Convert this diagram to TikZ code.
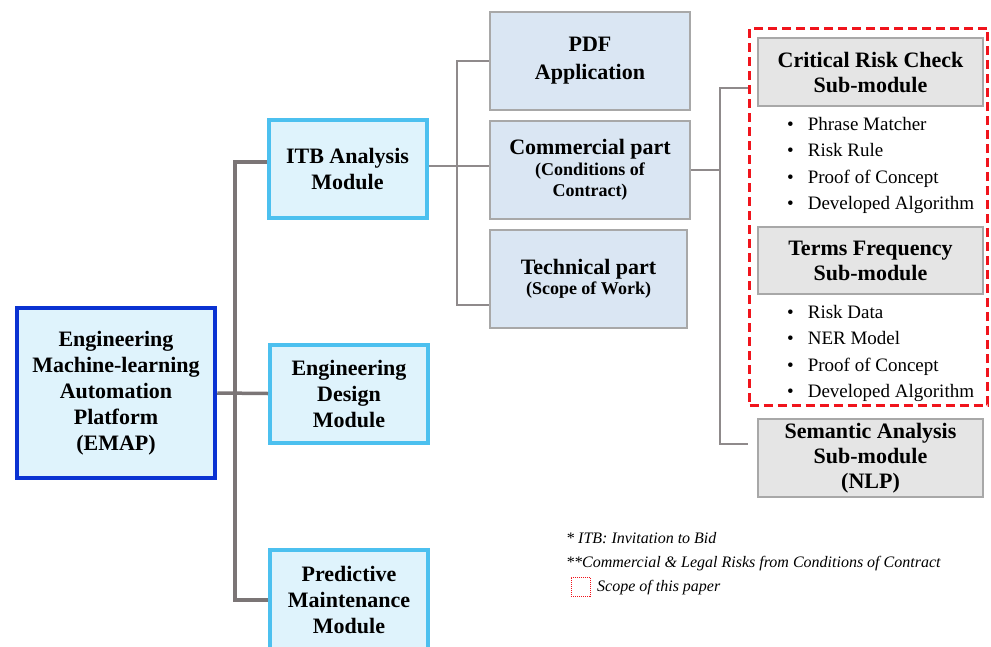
\documentclass[tikz,border=0pt]{standalone}
\usepackage{fontspec}
\setmainfont{Liberation Serif}
\usepackage{xcolor}
\usepackage{tikz}
\usetikzlibrary{positioning}
\definecolor{emapblue}{HTML}{0A32D2}
\definecolor{modblue}{HTML}{4CC0EF}
\definecolor{modfill}{HTML}{DFF3FC}
\definecolor{partfill}{HTML}{DAE6F3}
\definecolor{boxgray}{HTML}{A8A8A8}
\definecolor{subfill}{HTML}{E5E5E5}
\definecolor{linkgray}{HTML}{7B7576}
\definecolor{scopered}{HTML}{F0141C}
\tikzset{
  platform/.style={draw=emapblue,fill=modfill,line width=4.5pt,align=center,inner sep=0pt,
    font=\bfseries\fontsize{22}{26}\selectfont,minimum width=198pt,minimum height=170pt},
  module/.style={draw=modblue,fill=modfill,line width=4pt,align=center,inner sep=0pt,
    font=\bfseries\fontsize{22}{26}\selectfont,minimum width=158pt,minimum height=98pt},
  part/.style={draw=boxgray,fill=partfill,line width=2.5pt,align=center,inner sep=0pt,
    font=\bfseries\fontsize{22}{28}\selectfont,minimum width=200pt,minimum height=98pt},
  submod/.style={draw=boxgray,fill=subfill,line width=2.5pt,align=center,inner sep=0pt,
    font=\bfseries\fontsize{22}{25}\selectfont,minimum width=225pt},
  scopeline/.style={draw=scopered,line width=3pt,dash pattern=on 9pt off 5pt,inner sep=0pt},
  item/.style={anchor=base west,inner sep=0pt,font=\fontsize{19}{23}\selectfont},
  note/.style={anchor=base west,inner sep=0pt,font=\itshape\fontsize{16}{19}\selectfont},
  trunkline/.style={draw=linkgray,line width=3.5pt},
  linkline/.style={draw=linkgray!85,line width=2pt}
}
\newcommand{\subtext}{\fontsize{18}{21}\selectfont}

\begin{document}
\begin{tikzpicture}[x=1pt,y=-1pt]
  \useasboundingbox (0,0) rectangle (991,646);
  % main platform and its modules
  \node[platform] (emap) at (116,393) {Engineering\\Machine-learning\\Automation\\Platform\\(EMAP)};
  \node[module] (itb) at (347.5,169) {ITB Analysis\\Module};
  \node[module] (edm) at (349,393.5) {Engineering\\Design\\Module};
  \node[module,minimum height=100pt] (pmm) at (349,600) {Predictive\\Maintenance\\Module};
  % ITB parts
  \node[part] (pdf) at (590,61) {PDF\\Application};
  \node[part] (comm) at (590,170) {Commercial part\\[-7pt]{\subtext (Conditions of}\\[-7pt]{\subtext Contract)}};
  \node[part,minimum width=197pt] (tech) at (588.5,279) {Technical part\\[-8pt]{\subtext (Scope of Work)}};
  % sub-modules
  \node[scopeline,minimum width=238pt,minimum height=377pt] (scopebox) at (868.5,216.5) {};
  \node[submod,minimum height=68pt] (crit) at (870.5,72) {Critical Risk Check\\Sub-module};
  \node[submod,minimum height=67pt] (terms) at (870.5,260.5) {Terms Frequency\\Sub-module};
  \node[submod,minimum height=78pt] (sem) at (870.5,458) {Semantic Analysis\\Sub-module\\(NLP)};
  \foreach \t [count=\i] in {Phrase Matcher,Risk Rule,Proof of Concept,Developed Algorithm}
    \node[item] (crititem\i) at (787,103.5+26.5*\i) {\textbullet\hspace{14pt}\t};
  \foreach \t [count=\i] in {Risk Data,NER Model,Proof of Concept,Developed Algorithm}
    \node[item] (termitem\i) at (787,291.5+26.5*\i) {\textbullet\hspace{14pt}\t};

  % connectors
  \coordinate (trunk) at (235,0);
  \coordinate (itbin) at ([yshift=7pt]itb.west);
  \draw[trunkline] (itbin) -- (itbin -| trunk) -- (pmm.west -| trunk) -- (pmm.west);
  \draw[trunkline] (emap.east) -- (edm.west);
  \coordinate (fork) at (457,0);
  \coordinate (itbout) at ([yshift=3pt]itb.east);
  \coordinate (techin) at ([yshift=-26pt]tech.west);
  \draw[linkline] (itbout) -- (itbout -| comm.west);
  \draw[linkline] (pdf.west) -- (pdf.west -| fork) -- (techin -| fork) -- (techin);
  \coordinate (subfork) at (720,0);
  \coordinate (critin) at ([yshift=-16pt]crit.west);
  \coordinate (semin) at ([yshift=14pt]sem.west);
  \draw[linkline] (comm.east) -- (comm.east -| subfork);
  \draw[linkline] (critin -| scopebox.west) -- (critin -| subfork) -- (semin -| subfork) -- (semin -| scopebox.west);

  % notes
  \node[note] (note1) at (566,543) {* ITB: Invitation to Bid};
  \node[note] (note2) at (566,567) {**Commercial \& Legal Risks from Conditions of Contract};
  \node[draw=scopered,densely dotted,line width=1pt,minimum size=19pt,inner sep=0pt] (legbox) at (580.5,586.5) {};
  \node[note] (note3) at (597,591) {Scope of this paper};
\end{tikzpicture}
\end{document}
